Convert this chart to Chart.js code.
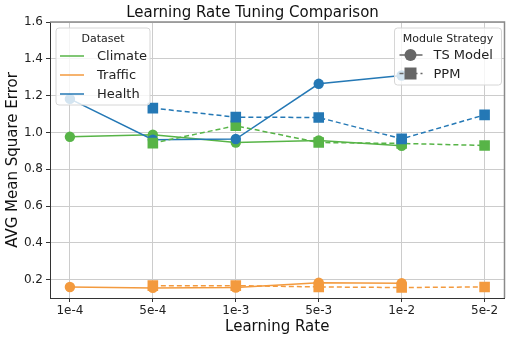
<!DOCTYPE html>
<html>
<head>
<meta charset="utf-8">
<script src="https://cdn.jsdelivr.net/npm/chart.js@4"></script>
<style>
  html, body { margin: 0; padding: 0; background: #fff; }
  #wrap { width: 512px; height: 340px; }
</style>
</head>
<body>
<div id="wrap"><canvas id="grafico" width="512" height="340"></canvas></div>
<script>
// Etiquetas del eje X (tasas de aprendizaje)
const rates = ['1e-4', '5e-4', '1e-3', '5e-3', '1e-2', '5e-2'];
const yTicks = [0.2, 0.4, 0.6, 0.8, 1.0, 1.2, 1.4, 1.6];

// TS Model (linea continua, circulos)
const climateTS = [0.976, 0.987, 0.945, 0.956, 0.927, null];
const trafficTS = [0.160, 0.155, 0.157, 0.183, 0.180, null];
const healthTS  = [1.182, 0.960, 0.964, 1.264, 1.309, null];

// PPM (linea discontinua, cuadrados)
const climatePPM = [null, 0.942, 1.036, 0.945, 0.940, 0.929];
const trafficPPM = [null, 0.167, 0.167, 0.160, 0.157, 0.160];
const healthPPM  = [null, 1.132, 1.083, 1.081, 0.965, 1.095];

const datasetNames = ['Climate', 'Traffic', 'Health'];
const colores = { Climate: '#57b447', Traffic: '#f39a3e', Health: '#2478b5' };
const font = 'DejaVu Sans';

const toPts = arr => arr.map((v, i) => ({ x: i, y: v })).filter(p => p.y !== null);

const makeSet = (name, arr, ppm) => ({
  label: name + (ppm ? ' PPM' : ' TS'),
  data: toPts(arr),
  borderColor: colores[name],
  backgroundColor: colores[name],
  borderWidth: 1.5,
  borderDash: ppm ? [5, 3] : [],
  pointStyle: ppm ? 'rect' : 'circle',
  // 'rect' dibuja un lado de radio*1.41
  pointRadius: ppm ? 7.5 : 5.2,
  pointBorderWidth: 0,
  pointHoverRadius: 6,
  fill: false
});

// el primer dataset se dibuja encima, por eso van en orden inverso
const datasets = [
  makeSet('Health', healthPPM, true),
  makeSet('Traffic', trafficPPM, true),
  makeSet('Climate', climatePPM, true),
  makeSet('Health', healthTS, false),
  makeSet('Traffic', trafficTS, false),
  makeSet('Climate', climateTS, false)
];

// Marco y leyendas dentro del area del grafico
const leyendas = {
  id: 'leyendas',
  beforeDatasetsDraw(chart) {
    const { ctx, chartArea: a } = chart;
    ctx.save();
    ctx.strokeStyle = '#8a8a8a';
    ctx.lineWidth = 1.5;
    ctx.beginPath();
    ctx.moveTo(a.left, a.top);
    ctx.lineTo(a.right, a.top);
    ctx.lineTo(a.right, a.bottom);
    ctx.stroke();
    ctx.restore();
  },
  afterDatasetsDraw(chart) {
    const { ctx, chartArea: a } = chart;
    const box = (x, y, w, h) => {
      ctx.save();
      ctx.fillStyle = 'rgba(255,255,255,0.8)';
      ctx.strokeStyle = '#d6d6d6';
      ctx.lineWidth = 1;
      ctx.beginPath();
      ctx.roundRect(x, y, w, h, 3);
      ctx.fill();
      ctx.stroke();
      ctx.restore();
    };
    ctx.save();
    ctx.textBaseline = 'middle';

    // Leyenda "Dataset"
    const w1 = 94, x1 = a.left + 6, y1 = a.top + 6;
    box(x1, y1, w1, 77);
    ctx.fillStyle = '#222';
    ctx.font = '11px "' + font + '"';
    ctx.textAlign = 'center';
    ctx.fillText('Dataset', x1 + w1 / 2, y1 + 11);
    ctx.font = '13px "' + font + '"';
    ctx.textAlign = 'left';
    datasetNames.forEach((n, i) => {
      const yy = y1 + 28 + i * 19;
      ctx.strokeStyle = colores[n];
      ctx.lineWidth = 1.5;
      ctx.beginPath();
      ctx.moveTo(x1 + 4, yy);
      ctx.lineTo(x1 + 28, yy);
      ctx.stroke();
      ctx.fillStyle = '#222';
      ctx.fillText(n, x1 + 41, yy + 1);
    });

    // Leyenda "Module Strategy"
    const w2 = 107, x2 = a.right - 110, y2 = a.top + 6;
    box(x2, y2, w2, 57);
    ctx.fillStyle = '#222';
    ctx.font = '11px "' + font + '"';
    ctx.textAlign = 'center';
    ctx.fillText('Module Strategy', x2 + w2 / 2, y2 + 11);
    ctx.font = '13px "' + font + '"';
    ctx.textAlign = 'left';
    ['TS Model', 'PPM'].forEach((n, i) => {
      const yy = y2 + 27 + i * 18.5;
      ctx.strokeStyle = '#666';
      ctx.fillStyle = '#666';
      ctx.lineWidth = 1.5;
      ctx.setLineDash(i ? [4, 3] : []);
      ctx.beginPath();
      ctx.moveTo(x2 + 5, yy);
      ctx.lineTo(x2 + 28, yy);
      ctx.stroke();
      ctx.setLineDash([]);
      ctx.beginPath();
      if (i) ctx.rect(x2 + 10, yy - 6, 12, 12);
      else ctx.arc(x2 + 16, yy, 6, 0, Math.PI * 2);
      ctx.fill();
      ctx.fillStyle = '#222';
      ctx.fillText(n, x2 + 39, yy + 1);
    });
    ctx.restore();
  }
};

new Chart(document.getElementById('grafico'), {
  type: 'line',
  data: { datasets },
  plugins: [leyendas],
  options: {
    responsive: false,
    animation: false,
    layout: { padding: { left: 0, right: 7, top: 0, bottom: 0 } },
    plugins: {
      legend: { display: false },
      tooltip: { enabled: false },
      title: {
        display: true,
        text: 'Learning Rate Tuning Comparison',
        color: '#111',
        font: { family: font, size: 15, weight: 'normal' },
        padding: { top: 4, bottom: 0 }
      }
    },
    scales: {
      x: {
        type: 'linear',
        min: -0.24,
        max: 5.24,
        afterBuildTicks: s => { s.ticks = rates.map((r, i) => ({ value: i })); },
        afterFit: s => { s.height = 42; },
        ticks: {
          callback: v => rates[v],
          color: '#222',
          font: { family: font, size: 12 },
          padding: 2,
          maxRotation: 0,
          autoSkip: false
        },
        grid: { color: '#cccccc', tickColor: '#333', tickLength: 4 },
        border: { color: '#333', width: 1 },
        title: {
          display: true,
          text: 'Learning Rate',
          color: '#111',
          font: { family: font, size: 15 },
          padding: { top: 1, bottom: 4 }
        }
      },
      y: {
        min: 0.1,
        max: 1.6,
        afterBuildTicks: s => { s.ticks = yTicks.map(v => ({ value: v })); },
        afterFit: s => { s.width = 50; },
        ticks: {
          callback: v => v.toFixed(1),
          color: '#222',
          font: { family: font, size: 12 },
          padding: 3
        },
        grid: { color: '#cccccc', tickColor: '#333', tickLength: 4 },
        border: { color: '#333', width: 1 },
        title: {
          display: true,
          text: 'AVG Mean Square Error',
          color: '#111',
          font: { family: font, size: 15 },
          padding: { top: 4, bottom: 2 }
        }
      }
    }
  }
});
</script>
</body>
</html>
